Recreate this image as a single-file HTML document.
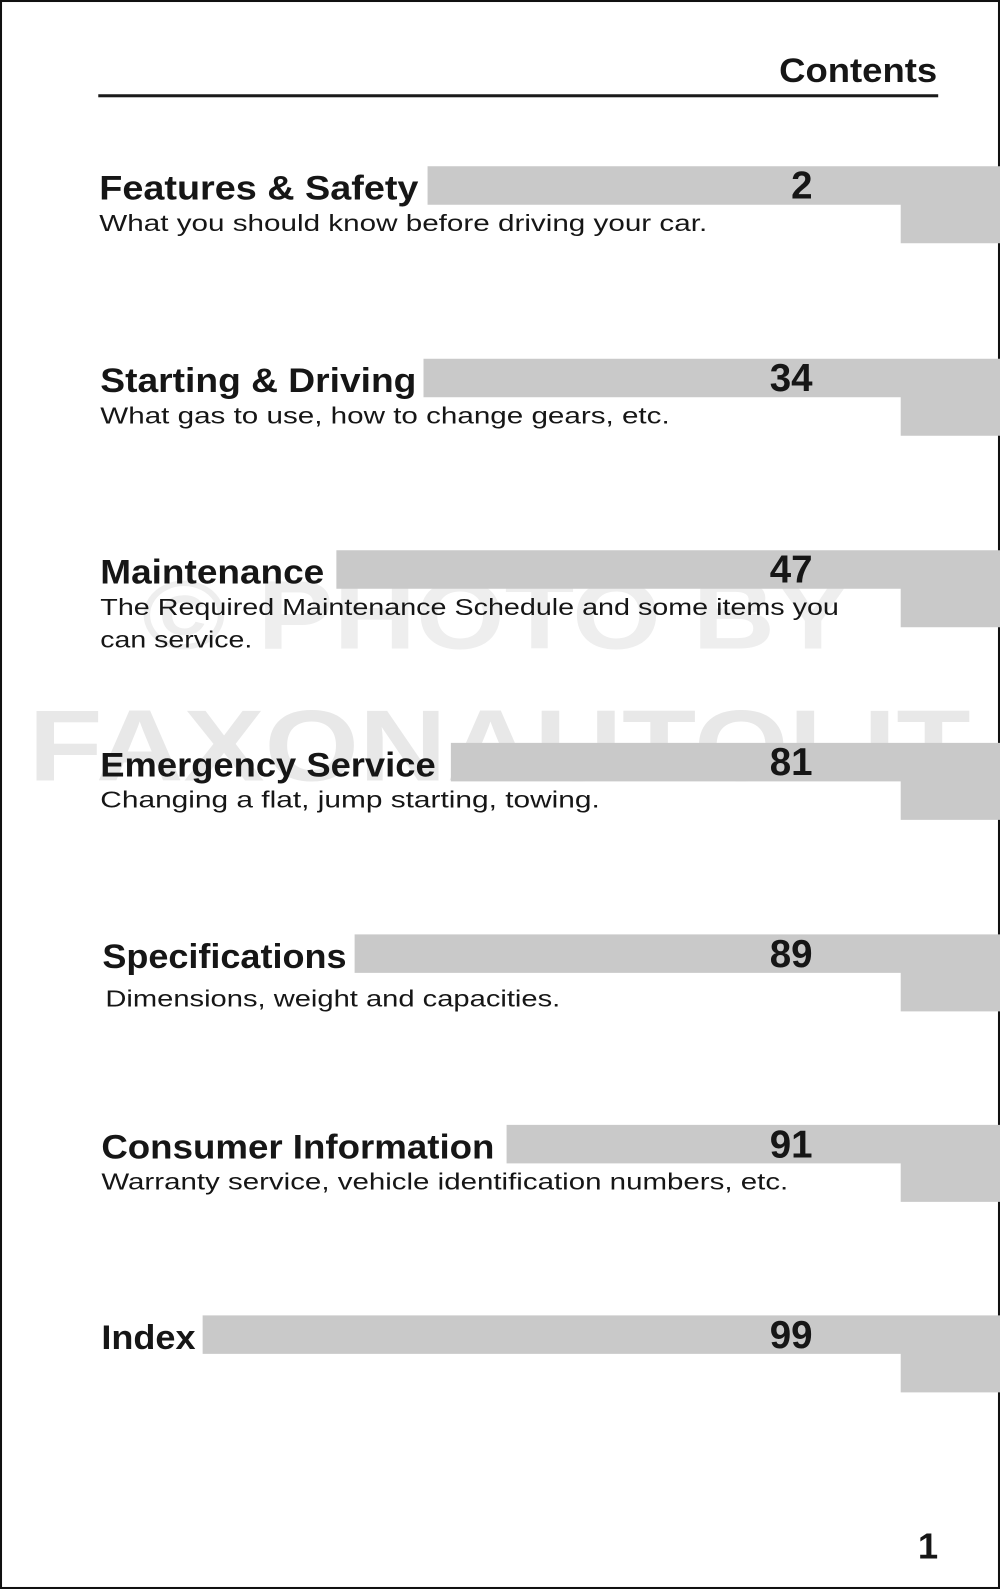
<!DOCTYPE html>
<html><head><meta charset="utf-8"><style>
html,body{margin:0;padding:0;background:#fff;}
svg{display:block;}
text{font-family:"Liberation Sans",Arial,sans-serif;fill:#161616;}
.t{font-weight:bold;font-size:34px;}
.s{font-size:23px;}
.n{font-weight:bold;font-size:38px;}
.band{fill:#c9c9c9;}
</style></head><body>
<svg width="1000" height="1589" viewBox="0 0 987 1568" preserveAspectRatio="none" xmlns="http://www.w3.org/2000/svg">
<rect x="1" y="1" width="985" height="1566" fill="#fff" stroke="#111" stroke-width="2"/>
<text x="925" y="81" text-anchor="end" class="t" textLength="156" lengthAdjust="spacingAndGlyphs">Contents</text>
<rect x="97" y="93" width="829" height="3" fill="#1a1a1a"/>
<text x="490" y="640" text-anchor="middle" font-size="96" font-weight="bold" style="fill:#eeeeee" textLength="700" lengthAdjust="spacingAndGlyphs">© PHOTO BY</text>
<text x="493" y="770" text-anchor="middle" font-size="100" font-weight="bold" style="fill:#e8e8e8" textLength="930" lengthAdjust="spacingAndGlyphs">FAXONAUTOLIT</text>
<g id="rows"></g>
<text x="926" y="1538" text-anchor="end" font-weight="bold" font-size="36">1</text>
</svg>
<script>
const titles=["Features & Safety","Starting & Driving","Maintenance","Emergency Service","Specifications","Consumer Information","Index"];
const pages=["2","34","47","81","89","91","99"];
const subs=[["What you should know before driving your car."],["What gas to use, how to change gears, etc."],["The Required Maintenance Schedule and some items you","can service."],["Changing a flat, jump starting, towing."],["Dimensions, weight and capacities."],["Warranty service, vehicle identification numbers, etc."],[]];
const bandTop=[164,354,543,733,922,1110,1298];
const bandStart=[422,418,332,445,350,500,200];
const titleX=[98,99,99,99,101,100,100];
const titleW=[315,312,221,331,241,388,93];
const subX=[98,99,99,99,104,100,100];
const subW=[[600],[562],[729,150],[493],[449],[678],[]];
const NS="http://www.w3.org/2000/svg";
const g=document.getElementById('rows');
function mk(tag,attrs){const e=document.createElementNS(NS,tag);for(const k in attrs)e.setAttribute(k,attrs[k]);return e;}
titles.forEach((t,i)=>{
  const y=bandTop[i];
  const band=mk('path',{class:'band',d:`M${bandStart[i]} ${y}H987V${y+76}H889V${y+38}H${bandStart[i]}Z`});
  
  
  g.appendChild(band);
  const tt=mk('text',{class:'t',x:titleX[i],y:y+33,textLength:titleW[i],lengthAdjust:'spacingAndGlyphs'});
  tt.textContent=t;
  
  
  g.appendChild(tt);
  const n=mk('text',{class:'n',x:802,y:y+32,'text-anchor':'end'});
  n.textContent=pages[i];
  
  
  g.appendChild(n);
  subs[i].forEach((s,j)=>{
    const st=mk('text',{class:'s',x:subX[i],y:y+64+j*32+(i==4?7:0),textLength:subW[i][j],lengthAdjust:'spacingAndGlyphs'});
    st.textContent=s;
    
    
    g.appendChild(st);
  });
});
</script>
</body></html>
